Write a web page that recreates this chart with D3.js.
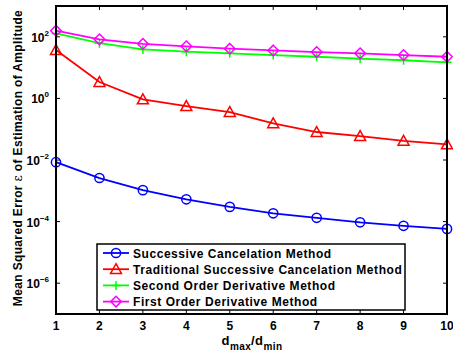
<!DOCTYPE html>
<html>
<head>
<meta charset="utf-8">
<script src="https://cdn.jsdelivr.net/npm/d3@7"></script>
<style>
  html, body { margin: 0; padding: 0; background: #fff; }
  svg text { font-family: "Liberation Sans", Arial, Helvetica, sans-serif; font-weight: bold; }
</style>
</head>
<body>
<svg id="chart" width="453" height="356"></svg>
<script>
// Ratio d_max/d_min on the horizontal axis
const ratios = [1, 2, 3, 4, 5, 6, 7, 8, 9, 10];

// Mean squared error of the amplitude estimate for each method
const successive   = [0.0085, 0.0026, 0.00105, 0.00053, 0.00030, 0.000186, 0.000133, 0.000095, 0.000073, 0.000058];
const traditional  = [37, 3.4, 0.93, 0.56, 0.36, 0.155, 0.081, 0.060, 0.042, 0.032];
const secondOrder  = [129, 62, 39, 33, 29, 25.6, 22.5, 19.5, 17.3, 14.8];
const firstOrder   = [158, 83, 59, 49, 41, 36, 32, 29, 25.6, 22.5];

const seriesNames  = ["Successive Cancelation Method", "Traditional Successive Cancelation Method",
                      "Second Order Derivative Method", "First Order Derivative Method"];
const seriesColors = ["#0000ff", "#ff0000", "#00ff00", "#ff00ff"];
const seriesMarks  = ["circle", "triangle", "plus", "diamond"];
const seriesValues = [successive, traditional, secondOrder, firstOrder];

const yTickExps = [2, 0, -2, -4, -6];

const svg = d3.select("#chart");
const m = { left: 56, right: 447, top: 6, bottom: 314 };

const x = d3.scaleLinear().domain([1, 10]).range([m.left, m.right]);
const y = d3.scaleLog().domain([1e-7, 1e3]).range([m.bottom, m.top]);

// Tick marks on all four sides, pointing inward
const tickLen = 4;
const ticks = svg.append("g").attr("stroke", "#000").attr("stroke-width", 1);
ratios.forEach(r => {
  ticks.append("line").attr("x1", x(r)).attr("x2", x(r)).attr("y1", m.bottom).attr("y2", m.bottom - tickLen);
  ticks.append("line").attr("x1", x(r)).attr("x2", x(r)).attr("y1", m.top).attr("y2", m.top + tickLen);
});
yTickExps.forEach(e => {
  const v = Math.pow(10, e);
  ticks.append("line").attr("x1", m.left).attr("x2", m.left + tickLen).attr("y1", y(v)).attr("y2", y(v));
  ticks.append("line").attr("x1", m.right).attr("x2", m.right - tickLen).attr("y1", y(v)).attr("y2", y(v));
});

// Data lines and markers
const line = d3.line().x((d, i) => x(ratios[i])).y(d => y(d));

function drawMarker(g, type, cx, cy, color) {
  if (type === "circle") {
    g.append("circle").attr("cx", cx).attr("cy", cy).attr("r", 4.6)
      .attr("fill", "none").attr("stroke", color).attr("stroke-width", 1.5);
  } else if (type === "triangle") {
    const s = 5.5;
    g.append("path").attr("d", `M${cx},${cy - s}L${cx + s},${cy + s * 0.8}L${cx - s},${cy + s * 0.8}Z`)
      .attr("fill", "none").attr("stroke", color).attr("stroke-width", 1.5);
  } else if (type === "diamond") {
    const s = 5.3;
    g.append("path").attr("d", `M${cx},${cy - s}L${cx + s},${cy}L${cx},${cy + s}L${cx - s},${cy}Z`)
      .attr("fill", "none").attr("stroke", color).attr("stroke-width", 1.5);
  } else if (type === "plus") {
    const s = 4.5;
    g.append("path").attr("d", `M${cx - s},${cy}H${cx + s}M${cx},${cy - s}V${cy + s}`)
      .attr("fill", "none").attr("stroke", color).attr("stroke-width", 1.5);
  }
}

// Draw in reverse so the blue series sits on top
const plot = svg.append("g");
[2, 3, 1, 0].forEach(k => {
  plot.append("path").datum(seriesValues[k]).attr("d", line)
    .attr("fill", "none").attr("stroke", seriesColors[k]).attr("stroke-width", 1.8);
  const mg = plot.append("g");
  seriesValues[k].forEach((v, i) => drawMarker(mg, seriesMarks[k], x(ratios[i]), y(v), seriesColors[k]));
});

// Axis frame
svg.append("rect").attr("x", m.left).attr("y", m.top)
  .attr("width", m.right - m.left).attr("height", m.bottom - m.top)
  .attr("fill", "none").attr("stroke", "#000").attr("stroke-width", 2);

// X tick labels
svg.append("g").selectAll("text").data(ratios).join("text")
  .attr("x", d => x(d)).attr("y", 330).attr("text-anchor", "middle")
  .attr("font-size", 12).text(d => d);

// Y tick labels: 10 with superscript exponent
yTickExps.forEach(e => {
  const t = svg.append("text").attr("x", 49).attr("y", y(Math.pow(10, e)) + 5)
    .attr("text-anchor", "end").attr("font-size", 12);
  t.append("tspan").text("10");
  t.append("tspan").attr("dy", -6).attr("font-size", 8).text(e < 0 ? "\u2212" + (-e) : String(e));
});

// X axis title: d_max / d_min
const xt = svg.append("text").attr("x", 252).attr("y", 345).attr("text-anchor", "middle")
  .attr("font-size", 13).attr("letter-spacing", 0.4);
xt.append("tspan").text("d");
xt.append("tspan").attr("dy", 5).attr("font-size", 10).text("max");
xt.append("tspan").attr("dy", -5).text("/d");
xt.append("tspan").attr("dy", 5).attr("font-size", 10).text("min");

// Y axis title
const yt = svg.append("text").attr("transform", "translate(22,158) rotate(-90)")
  .attr("text-anchor", "middle").attr("font-size", 12).attr("letter-spacing", 0.35);
yt.append("tspan").text("Mean Squared Error ");
yt.append("tspan").attr("font-weight", "normal").attr("font-family", "DejaVu Serif, serif").text("\u03b5");
yt.append("tspan").text(" of Estimation of Amplitude");

// Legend
const lg = svg.append("g");
lg.append("rect").attr("x", 97).attr("y", 244).attr("width", 308).attr("height", 66)
  .attr("fill", "#fff").attr("stroke", "#000").attr("stroke-width", 1.5);
seriesNames.forEach((name, k) => {
  const ly = 253 + k * 16.2;
  lg.append("line").attr("x1", 103).attr("x2", 129).attr("y1", ly).attr("y2", ly)
    .attr("stroke", seriesColors[k]).attr("stroke-width", 1.8);
  drawMarker(lg, seriesMarks[k], 116, ly, seriesColors[k]);
  lg.append("text").attr("x", 133).attr("y", ly + 4.5).attr("font-size", 12)
    .attr("letter-spacing", 0.55).text(name);
});
</script>
</body>
</html>
